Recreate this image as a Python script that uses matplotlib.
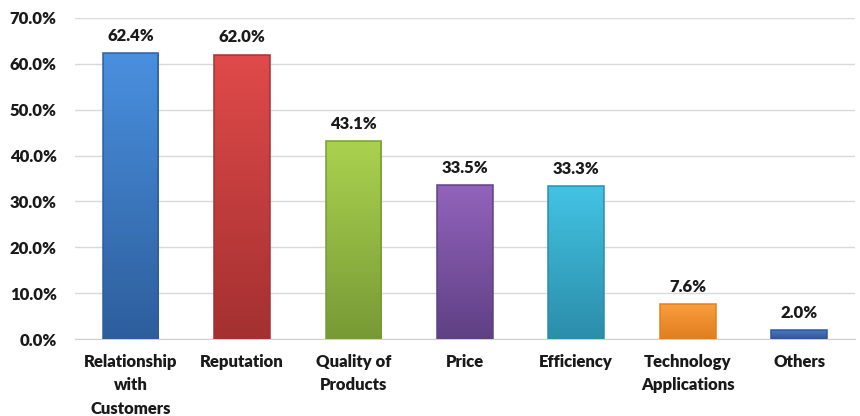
import numpy as np
import matplotlib.pyplot as plt
import matplotlib.colors as mcolors

categories = ['Relationship\nwith\nCustomers', 'Reputation', 'Quality of\nProducts', 'Price',
              'Efficiency', 'Technology\nApplications', 'Others']
values = [62.4, 62.0, 43.1, 33.5, 33.3, 7.6, 2.0]
top_colors = ['#4A90DF', '#E04A4A', '#AAD24E', '#9263BC', '#43C3E3', '#FA9E3E', '#4F7FC0']
bottom_colors = ['#2D5E9C', '#A43030', '#789A36', '#5F4084', '#2B8DAA', '#E07E1E', '#2F5597']

plt.rcParams['font.family'] = ['Lato', 'DejaVu Sans']
plt.rcParams['font.weight'] = 'bold'

fig = plt.figure(figsize=(8.6, 4.16), dpi=100)
ax = fig.add_axes([0.087, 0.185, 0.907, 0.772])

x = np.arange(len(categories))
bars = ax.bar(x, values, width=0.5, color='none', edgecolor='none', zorder=3)

grad = np.linspace(0, 1, 256).reshape(-1, 1)
for bar, c1, c2 in zip(bars, top_colors, bottom_colors):
    cmap = mcolors.LinearSegmentedColormap.from_list('g', [c2, c1])
    x0, y0 = bar.get_x(), bar.get_y()
    w, h = bar.get_width(), bar.get_height()
    im = ax.imshow(grad, extent=[x0, x0 + w, y0, y0 + h], origin='lower', cmap=cmap,
                   aspect='auto', zorder=3)
    im.set_clip_path(bar)
    # bevel edges
    ax.bar(bar.get_x() + w / 2, h, width=w, color='none', edgecolor=mcolors.to_rgba(c2, 0.9),
           linewidth=1.2, zorder=4)
    ax.text(bar.get_x() + w / 2, h + 2.0, f'{h:.1f}%', ha='center', va='bottom',
            fontsize=12, fontweight='heavy', color='#1A1A1A')

ax.set_xlim(-0.5, len(categories) - 0.5)
ax.set_ylim(0, 70)
ax.set_yticks(np.arange(0, 71, 10))
ax.set_yticklabels([f'{v:.1f}%' for v in np.arange(0, 71, 10)])
ax.set_xticks(x)
ax.set_xticklabels(categories, linespacing=1.55, va='top')
ax.tick_params(axis='both', length=0, labelsize=12, colors='#1A1A1A')
for lbl in ax.get_xticklabels() + ax.get_yticklabels():
    lbl.set_fontweight('heavy')
ax.tick_params(axis='x', pad=11)
ax.tick_params(axis='y', pad=13)
ax.grid(axis='y', color='#D9D9D9', linewidth=1, zorder=0)
for s in ['top', 'right', 'left']:
    ax.spines[s].set_visible(False)
ax.spines['bottom'].set_color('#D0D0D0')
ax.set_axisbelow(True)

fig.savefig('out.png', dpi=100)
